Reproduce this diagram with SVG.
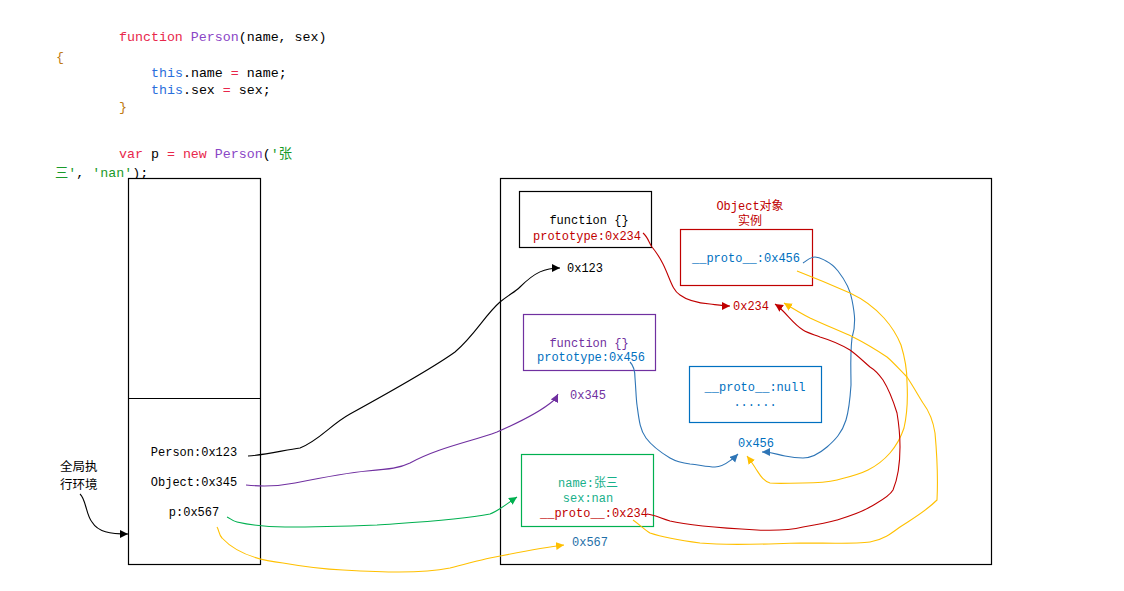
<svg xmlns="http://www.w3.org/2000/svg" width="1124" height="591" viewBox="0 0 1124 591">
<style>
.code{font-family:"Liberation Mono","Noto Sans CJK SC",monospace;font-size:13.3px;fill:#000}
.t{font-family:"Liberation Mono","Noto Sans CJK SC",monospace;font-size:12px}
.mid{text-anchor:middle}
.kw{fill:#e8274b}.fn{fill:#8a45c6}.th{fill:#2a6fdc}.br{fill:#c07a10}.st{fill:#1a9a2a}
.box{fill:#fff;stroke-width:1.2}
.ln{fill:none;stroke-width:1.1}
.cjk{font-family:"Noto Sans CJK SC",sans-serif;font-size:12.5px;fill:#000}
</style>
<defs>
<marker id="aK" markerWidth="10" markerHeight="10" refX="8" refY="4" orient="auto" markerUnits="userSpaceOnUse"><path d="M0,0 L8,4 L0,8 z" fill="#000"/></marker>
<marker id="aP" markerWidth="10" markerHeight="10" refX="8" refY="4" orient="auto" markerUnits="userSpaceOnUse"><path d="M0,0 L8,4 L0,8 z" fill="#7030a0"/></marker>
<marker id="aG" markerWidth="10" markerHeight="10" refX="8" refY="4" orient="auto" markerUnits="userSpaceOnUse"><path d="M0,0 L8,4 L0,8 z" fill="#00b050"/></marker>
<marker id="aY" markerWidth="10" markerHeight="10" refX="8" refY="4" orient="auto" markerUnits="userSpaceOnUse"><path d="M0,0 L8,4 L0,8 z" fill="#ffc000"/></marker>
<marker id="aR" markerWidth="10" markerHeight="10" refX="8" refY="4" orient="auto" markerUnits="userSpaceOnUse"><path d="M0,0 L8,4 L0,8 z" fill="#c00000"/></marker>
<marker id="aB" markerWidth="10" markerHeight="10" refX="8" refY="4" orient="auto" markerUnits="userSpaceOnUse"><path d="M0,0 L8,4 L0,8 z" fill="#2e75b6"/></marker>
</defs>
<rect width="1124" height="591" fill="#fff"/>

<g id="code">
<text class="code" x="119" y="41"><tspan class="kw">function</tspan> <tspan class="fn">Person</tspan>(name, sex)</text>
<text class="code br" x="56" y="61">{</text>
<text class="code" x="151" y="77"><tspan class="th">this</tspan>.name <tspan class="kw">=</tspan> name;</text>
<text class="code" x="151" y="94"><tspan class="th">this</tspan>.sex <tspan class="kw">=</tspan> sex;</text>
<text class="code br" x="119" y="111">}</text>
<text class="code" x="119" y="158"><tspan class="kw">var</tspan> p <tspan class="kw">=</tspan> <tspan class="kw">new</tspan> <tspan class="fn">Person</tspan>(<tspan class="st">'张</tspan></text>
<text class="code" x="55" y="177"><tspan class="st">三'</tspan>, <tspan class="st">'nan'</tspan>);</text>
</g>

<g id="stack">
<rect class="box" x="128.5" y="178.5" width="132" height="386" stroke="#000"/>
<line x1="128.5" y1="398.5" x2="260.5" y2="398.5" stroke="#000" stroke-width="1.2"/>
<text class="t mid" x="194" y="456">Person:0x123</text>
<text class="t mid" x="194" y="486">Object:0x345</text>
<text class="t mid" x="194" y="516">p:0x567</text>
</g>

<g id="global-label">
<text class="cjk" x="60" y="471">全局执</text>
<text class="cjk" x="60" y="489">行环境</text>
</g>

<g id="heap">
<rect class="box" x="500.5" y="178.5" width="491" height="386" stroke="#000"/>
</g>

<g id="fnPerson">
<rect class="box" x="519.5" y="191.5" width="132" height="56" stroke="#000"/>
<text class="t mid" x="589" y="224" fill="#000">function {}</text>
<text class="t mid" x="587" y="240" fill="#c00000">prototype:0x234</text>
</g>

<g id="objInstance">
<text class="t mid" x="750" y="210" fill="#c00000">Object对象</text>
<text class="t mid" x="750" y="225" fill="#c00000">实例</text>
<rect class="box" x="680.5" y="229.5" width="132" height="56" stroke="#c00000"/>
<text class="t mid" x="746" y="262" fill="#0070c0">__proto__:0x456</text>
</g>

<g id="fnObject">
<rect class="box" x="523.5" y="314.5" width="132" height="56" stroke="#7030a0"/>
<text class="t mid" x="589" y="347" fill="#7030a0">function {}</text>
<text class="t mid" x="591" y="361" fill="#0070c0">prototype:0x456</text>
</g>

<g id="objProto">
<rect class="box" x="689.5" y="366.5" width="132" height="56" stroke="#0070c0"/>
<text class="t mid" x="755" y="391" fill="#0070c0">__proto__:null</text>
<text class="t mid" x="755" y="406" fill="#0070c0">......</text>
</g>

<g id="pObj">
<rect class="box" x="521.5" y="454.5" width="132" height="72" stroke="#00b050"/>
<text class="t mid" x="588" y="487" fill="#17b08a">name:张三</text>
<text class="t mid" x="588" y="502" fill="#17b08a">sex:nan</text>
<text class="t mid" x="594" y="517" fill="#c00000">__proto__:0x234</text>
</g>

<g id="addr">
<text class="t" x="567" y="272" fill="#000">0x123</text>
<text class="t" x="733" y="310" fill="#c00000">0x234</text>
<text class="t" x="570" y="399" fill="#7030a0">0x345</text>
<text class="t" x="738" y="447" fill="#0070c0">0x456</text>
<text class="t" x="572" y="546" fill="#1f6fa8">0x567</text>
</g>

<g id="connectors">
<path class="ln" stroke="#000" marker-end="url(#aK)" d="M80,494 C86,499 86,515 92,522 C98,532 110,534 128,534"/>
<path class="ln" stroke="#000" marker-end="url(#aK)" d="M248,456 C265,455 285,450 300,448 C320,440 330,425 350,414 C390,392 430,370 455,352 C475,335 485,315 500,302 C510,294 515,292 520,287 C535,272 545,268 560,268"/>
<path class="ln" stroke="#7030a0" marker-end="url(#aP)" d="M246,485 C265,487 280,486 295,483 C320,478 345,473 367,471 C390,469 400,468 410,463 C440,447 470,442 497,432 C520,422 540,412 553,401 C556,398 557,396 558,394"/>
<path class="ln" stroke="#00b050" marker-end="url(#aG)" d="M227,517 C230,518 232,521 237,522 C250,525 265,527 285,527 C320,527 350,526 377,525 C420,522 460,520 490,514 C500,510 508,503 517,497"/>
<path class="ln" stroke="#ffc000" marker-end="url(#aY)" d="M217,527 C219,530 219,535 222,538 C235,552 255,560 283,563 C300,566 320,569 343,570 C380,572 420,574 450,568 C470,563 480,560 490,558 C515,553 540,548 564,545"/>
<path class="ln" stroke="#c00000" marker-end="url(#aR)" d="M643,233 C648,237 649,243 652,247 C657,253 660,258 663,264 C670,278 672,290 680,295 C688,301 698,303 710,304 C718,305 724,306 730,306"/>
<path class="ln" stroke="#2e75b6" marker-end="url(#aB)" d="M803,263 C808,260 810,257 815,257 C820,257 822,259 826,261 C832,264 834,266 838,271 C845,280 850,288 852,300 C855,315 856,325 852,338 C850,355 851,370 851,385 C850,400 849,410 846,420 C842,433 835,440 827,447 C820,453 812,458 803,458 C795,458 790,457 785,456 C778,455 773,452 762,452"/>
<path class="ln" stroke="#2e75b6" marker-end="url(#aB)" d="M630,362 C634,366 635,372 635,378 C636,390 636,398 637,405 C639,420 640,430 646,438 C652,446 660,452 670,458 C677,462 682,463 690,464 C700,465 707,467 715,467 C722,467 727,463 731,460 C734,458 736,456 738,454"/>
<path class="ln" stroke="#ffc000" marker-end="url(#aY)" d="M797,271 C815,278 832,285 850,293 C865,300 875,308 884,318 C892,327 897,335 901,345 C905,358 907,368 907,382 C908,400 907,415 904,428 C900,440 896,446 890,453 C883,461 876,466 868,470 C858,475 848,477 837,480 C825,483 815,483 803,483 C790,483 780,484 770,483 C763,481 760,475 756,469 C753,464 750,460 747,456"/>
<path class="ln" stroke="#c00000" marker-end="url(#aR)" d="M647,514 C655,515 660,518 670,521 C690,526 720,528 757,530 C780,531 795,529 803,527 C815,525 827,523 837,520 C850,516 860,513 870,507 C880,501 889,497 893,490 C898,478 900,465 900,447 C900,435 899,425 897,413 C893,400 888,388 883,380 C878,373 875,370 870,367 C863,361 857,355 850,350 C840,344 830,340 820,337 C812,334 808,333 803,330 C795,325 790,318 783,311 C780,308 778,306 775,304"/>
<path class="ln" stroke="#ffc000" marker-end="url(#aY)" d="M633,520 C640,525 645,530 650,533 C665,538 685,541 700,543 C730,546 760,544 800,543 C830,543 855,544 870,542 C883,540 892,533 900,527 C912,519 925,512 937,500 C938,480 937,455 935,433 C933,420 929,411 923,403 C918,395 913,386 907,377 C900,370 893,362 887,357 C875,349 865,343 853,337 C840,331 825,325 810,318 C800,313 792,308 784,303"/>
</g>
</svg>
